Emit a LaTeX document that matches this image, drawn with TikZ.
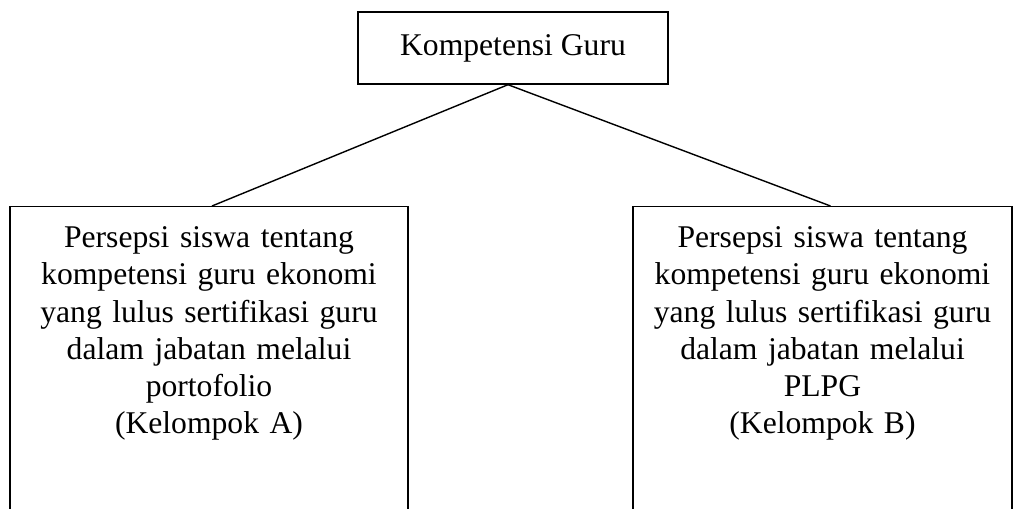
\documentclass[tikz,border=0pt]{standalone}
\usepackage{fontspec}
\setmainfont{Liberation Serif}
\usepackage{tikz}
\tikzset{kotak/.style={draw, line width=0.8pt, inner sep=0pt, align=center, font=\fontsize{18pt}{21.2pt}\selectfont}}
\tikzset{kotakbawah/.style={kotak, anchor=north, text height=0.82cm, text depth=6.3cm}}

\begin{document}
\begin{tikzpicture}[x=0.02cm, y=-0.02cm]
			%%%%% START %%%%%
			\useasboundingbox (0, 0) rectangle (1024, 508);
			\clip (0, 0) rectangle (1024, 508);
			
			\node[kotak, minimum width=6.2cm, minimum height=1.44cm] (atas) at (513, 48) {Kompetensi Guru};
			
			\node[kotakbawah, minimum width=7.96cm, text width=7.96cm] (kiri) at (209, 206) {Persepsi siswa tentang\\kompetensi guru ekonomi\\yang lulus sertifikasi guru\\dalam jabatan melalui\\portofolio\\(Kelompok A)};
			\node[kotakbawah, minimum width=7.58cm, text width=7.58cm] (kanan) at (822.5, 206) {Persepsi siswa tentang\\kompetensi guru ekonomi\\yang lulus sertifikasi guru\\dalam jabatan melalui\\PLPG\\(Kelompok B)};
			
			\draw[line width=0.8pt] ([xshift=-0.1cm]atas.south) -- ([xshift=0.06cm]kiri.north);
			\draw[line width=0.8pt] ([xshift=-0.1cm]atas.south) -- ([xshift=0.16cm]kanan.north);
			
			%%%%% END %%%%%
\end{tikzpicture}
\end{document}
